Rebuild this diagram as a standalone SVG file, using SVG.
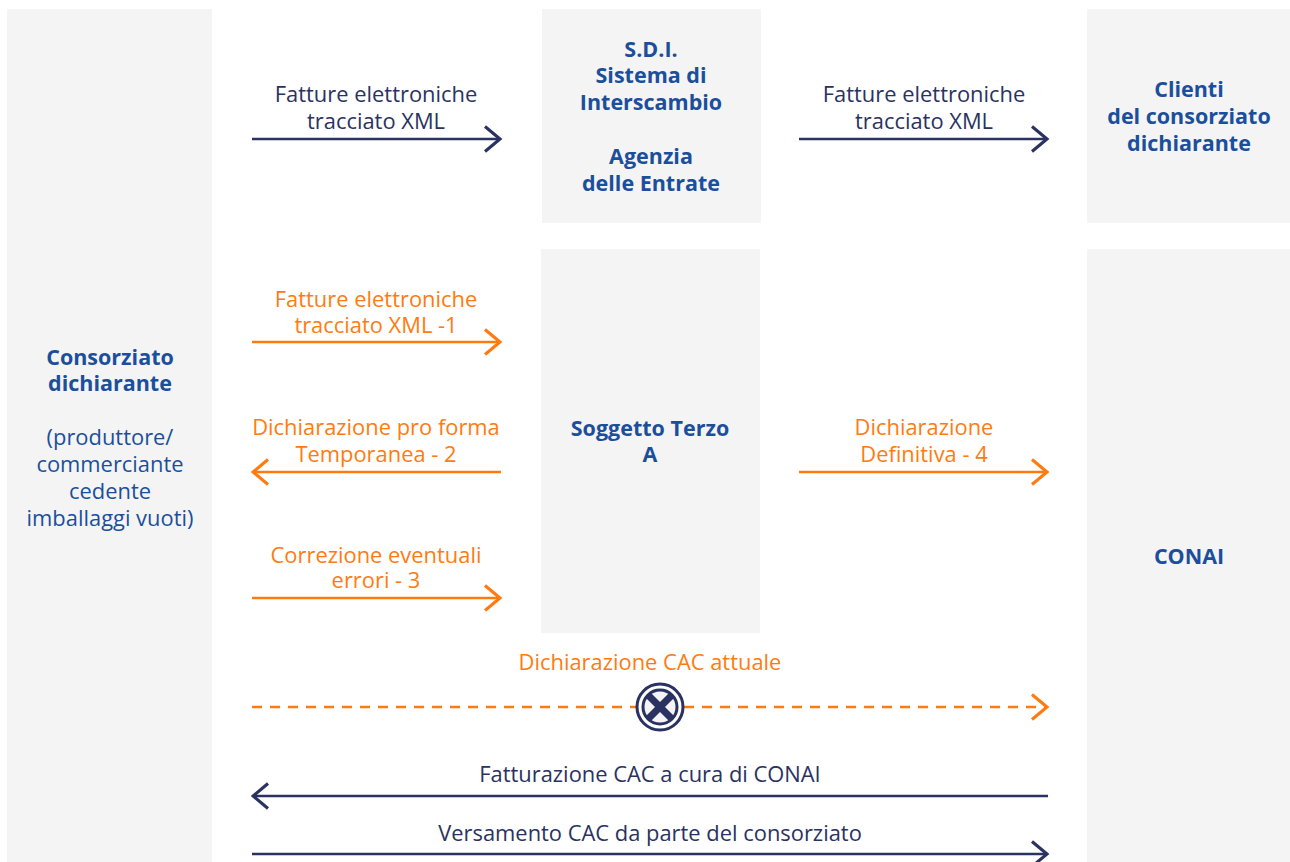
<svg xmlns="http://www.w3.org/2000/svg" width="1290" height="862" viewBox="0 0 1290 862">
<style>
.box{fill:#f4f4f4}
.t{font-family:"Open Sans","Liberation Sans",sans-serif;font-size:21.9px;text-anchor:middle}
.n{fill:#2a3262}
.o{fill:#ff7b0f}
.b{font-family:"Open Sans","Liberation Sans",sans-serif;font-size:21.5px;font-weight:bold;fill:#1b4f9c;text-anchor:middle}
.r{font-family:"Open Sans","Liberation Sans",sans-serif;font-size:21.9px;fill:#1b4f9c;text-anchor:middle}
.ln{stroke:#2a3262;stroke-width:2.5;fill:none}
.lo{stroke:#ff7b0f;stroke-width:2.5;fill:none}
</style>
<defs>
<marker id="an" markerUnits="userSpaceOnUse" markerWidth="20" markerHeight="30" viewBox="-14 -12 16 24" refX="0" refY="0" orient="auto-start-reverse">
<path d="M-12,-10 L0,0 L-12,10" fill="none" stroke="#2a3262" stroke-width="2.5"/>
</marker>
<marker id="ao" markerUnits="userSpaceOnUse" markerWidth="20" markerHeight="30" viewBox="-14 -12 16 24" refX="0" refY="0" orient="auto-start-reverse">
<path d="M-12,-10 L0,0 L-12,10" fill="none" stroke="#ff7b0f" stroke-width="2.5"/>
</marker>
<clipPath id="cc"><circle cx="660" cy="707" r="17"/></clipPath>
</defs>
<rect width="1290" height="862" fill="#ffffff"/>
<g id="consorziato">
<rect class="box" x="7" y="9" width="205" height="853"/>
<text class="b" x="110" y="365">Consorziato</text>
<text class="b" x="110" y="391">dichiarante</text>
<text class="r" x="110" y="445">(produttore/</text>
<text class="r" x="110" y="472">commerciante</text>
<text class="r" x="110" y="499">cedente</text>
<text class="r" x="110" y="526">imballaggi vuoti)</text>
</g>
<g id="sdi">
<rect class="box" x="542" y="9" width="219" height="214"/>
<text class="b" x="651" y="57">S.D.I.</text>
<text class="b" x="651" y="83">Sistema di</text>
<text class="b" x="651" y="110">Interscambio</text>
<text class="b" x="651" y="164">Agenzia</text>
<text class="b" x="651" y="191">delle Entrate</text>
</g>
<g id="clienti">
<rect class="box" x="1087" y="9" width="203" height="214"/>
<text class="b" x="1189" y="97">Clienti</text>
<text class="b" x="1189" y="124">del consorziato</text>
<text class="b" x="1189" y="151">dichiarante</text>
</g>
<g id="soggetto">
<rect class="box" x="541" y="249" width="219" height="384"/>
<text class="b" x="650" y="436">Soggetto Terzo</text>
<text class="b" x="650" y="462">A</text>
</g>
<g id="conai">
<rect class="box" x="1087" y="249" width="203" height="613"/>
<text class="b" x="1189" y="564">CONAI</text>
</g>
<g id="connectors">
<line class="ln" x1="252" y1="139" x2="500" y2="139" marker-end="url(#an)"/>
<text class="t n" x="376" y="102">Fatture elettroniche</text>
<text class="t n" x="376" y="129">tracciato XML</text>
<line class="ln" x1="799" y1="139" x2="1047" y2="139" marker-end="url(#an)"/>
<text class="t n" x="924" y="102">Fatture elettroniche</text>
<text class="t n" x="924" y="129">tracciato XML</text>
<line class="lo" x1="252" y1="342" x2="500" y2="342" marker-end="url(#ao)"/>
<text class="t o" x="376" y="307">Fatture elettroniche</text>
<text class="t o" x="376" y="333">tracciato XML -1</text>
<line class="lo" x1="253" y1="472" x2="501" y2="472" marker-start="url(#ao)"/>
<text class="t o" x="376" y="435">Dichiarazione pro forma</text>
<text class="t o" x="376" y="462">Temporanea - 2</text>
<line class="lo" x1="252" y1="598" x2="500" y2="598" marker-end="url(#ao)"/>
<text class="t o" x="376" y="563">Correzione eventuali</text>
<text class="t o" x="376" y="588">errori - 3</text>
<line class="lo" x1="799" y1="472" x2="1047" y2="472" marker-end="url(#ao)"/>
<text class="t o" x="924" y="435">Dichiarazione</text>
<text class="t o" x="924" y="462">Definitiva - 4</text>
<line class="lo" x1="252" y1="707" x2="1047" y2="707" stroke-dasharray="10,8" marker-end="url(#ao)"/>
<text class="t o" x="650" y="670">Dichiarazione CAC attuale</text>
<g id="stop">
<circle cx="660" cy="707" r="23" fill="#ffffff" stroke="#2a3262" stroke-width="3"/>
<circle cx="660" cy="707" r="17" fill="#f4f4f6" stroke="#2a3262" stroke-width="3"/>
<g clip-path="url(#cc)" stroke="#2a3262" stroke-width="7">
<line x1="646" y1="693" x2="674" y2="721"/>
<line x1="674" y1="693" x2="646" y2="721"/>
</g>
</g>
<line class="ln" x1="253" y1="796" x2="1048" y2="796" marker-start="url(#an)"/>
<text class="t n" x="650" y="782">Fatturazione CAC a cura di CONAI</text>
<line class="ln" x1="252" y1="854" x2="1047" y2="854" marker-end="url(#an)"/>
<text class="t n" x="650" y="841">Versamento CAC da parte del consorziato</text>
</g>
</svg>
